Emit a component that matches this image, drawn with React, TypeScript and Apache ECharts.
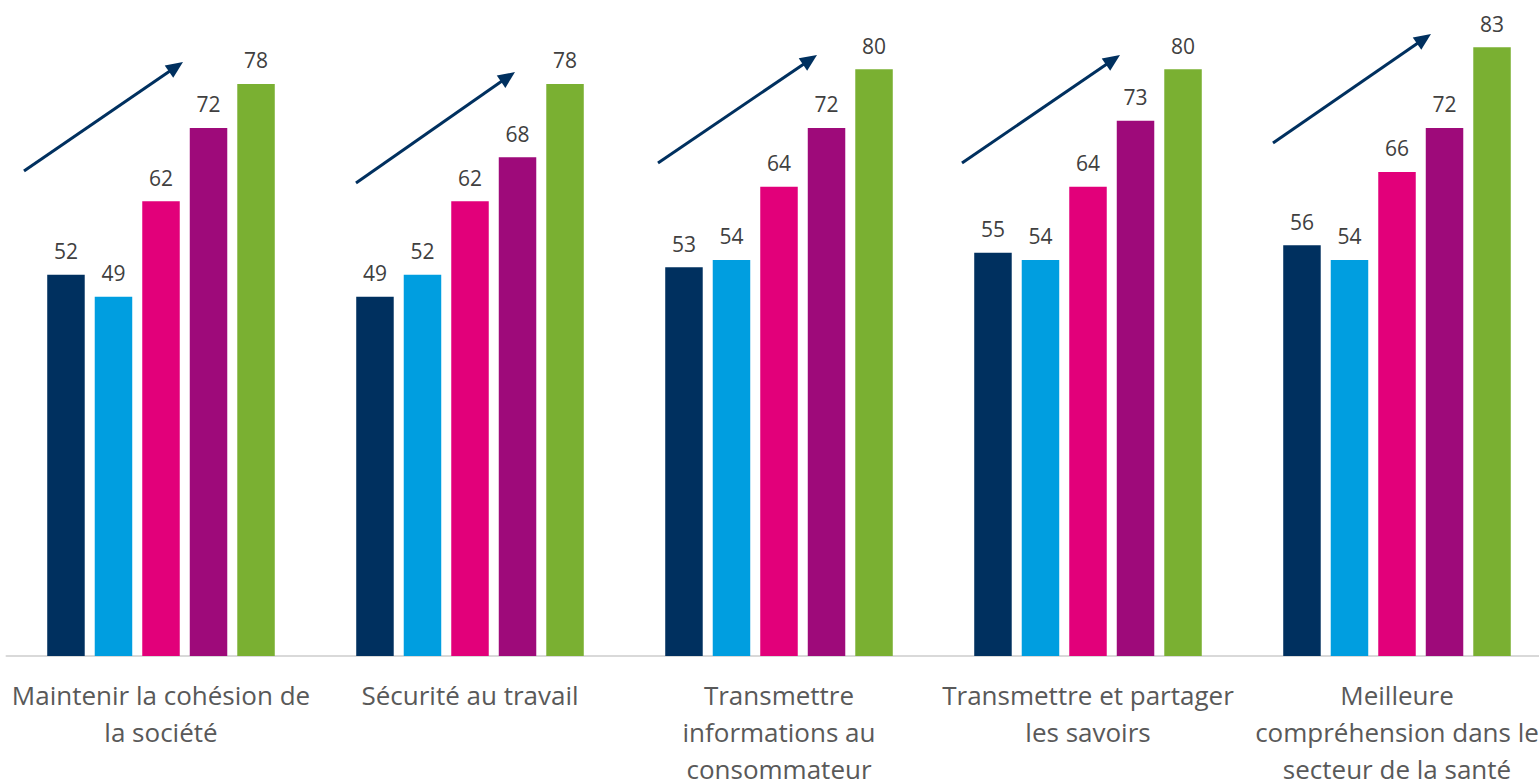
import React, { useEffect, useRef } from "react";
import * as echarts from "echarts";

const categories = [
  "Maintenir la cohésion de\nla société",
  "Sécurité au travail",
  "Transmettre\ninformations au\nconsommateur",
  "Transmettre et partager\nles savoirs",
  "Meilleure\ncompréhension dans le\nsecteur de la santé",
];

const seriesNames = ["Série 1", "Série 2", "Série 3", "Série 4", "Série 5"];
const serie1 = [52, 49, 53, 55, 56];
const serie2 = [49, 52, 54, 54, 54];
const serie3 = [62, 62, 64, 64, 66];
const serie4 = [72, 68, 72, 73, 72];
const serie5 = [78, 78, 80, 80, 83];
const colors = ["#00305F", "#009EE0", "#E2007A", "#9E0A7A", "#7AB032"];

// Decorative trend arrows (pixel positions): [x1, y1, x2, y2]
const arrows = [
  [24, 171, 183, 62],
  [356, 183, 515, 72],
  [658, 163, 817, 55],
  [962, 163, 1120, 55],
  [1273, 143, 1431, 34],
];

function arrowGraphics() {
  const out: any[] = [];
  arrows.forEach(([x1, y1, x2, y2]) => {
    const dx = x2 - x1;
    const dy = y2 - y1;
    const len = Math.sqrt(dx * dx + dy * dy);
    const ux = dx / len;
    const uy = dy / len;
    const headL = 17;
    const headW = 7.5;
    const bx = x2 - ux * headL;
    const by = y2 - uy * headL;
    out.push({
      type: "line",
      shape: { x1, y1, x2: bx + ux * 2, y2: by + uy * 2 },
      style: { stroke: "#00305F", lineWidth: 3 },
      z: 10,
    });
    out.push({
      type: "polygon",
      shape: {
        points: [
          [x2, y2],
          [bx - uy * headW, by + ux * headW],
          [bx + uy * headW, by - ux * headW],
        ],
      },
      style: { fill: "#00305F" },
      z: 10,
    });
  });
  return out;
}

export default function App() {
  const ref = useRef<HTMLDivElement>(null);
  useEffect(() => {
    document.body.style.margin = "0";
    const chart = echarts.init(ref.current!, null, { renderer: "svg" });
    const all = [serie1, serie2, serie3, serie4, serie5];
    chart.setOption({
      animation: false,
      backgroundColor: "#ffffff",
      grid: {
        left: 6.5,
        top: 0,
        width: 1545,
        height: 656,
        containLabel: false,
        outerBoundsMode: "none",
      },
      xAxis: {
        type: "category",
        data: categories,
        axisLine: { show: true, lineStyle: { color: "#D9D9D9", width: 2 } },
        axisTick: { show: false },
        axisLabel: {
          interval: 0,
          margin: 20,
          fontFamily: "Open Sans",
          fontSize: 26,
          color: "#595959",
          lineHeight: 37,
          align: "center",
        },
      },
      yAxis: {
        type: "value",
        min: 0,
        max: 89.45,
        show: false,
        splitLine: { show: false },
      },
      series: all.map((d, i) => ({
        name: seriesNames[i],
        type: "bar",
        data: d,
        barWidth: 37.5,
        barGap: "26.7%",
        barCategoryGap: "26.4%",
        itemStyle: { color: colors[i] },
        label: {
          show: true,
          position: "top",
          distance: 13,
          fontFamily: "Open Sans",
          fontSize: 21,
          color: "#404040",
        },
      })),
      graphic: arrowGraphics(),
    });
    return () => chart.dispose();
  }, []);
  return <div ref={ref} style={{ width: 1539, height: 780 }} />;
}
